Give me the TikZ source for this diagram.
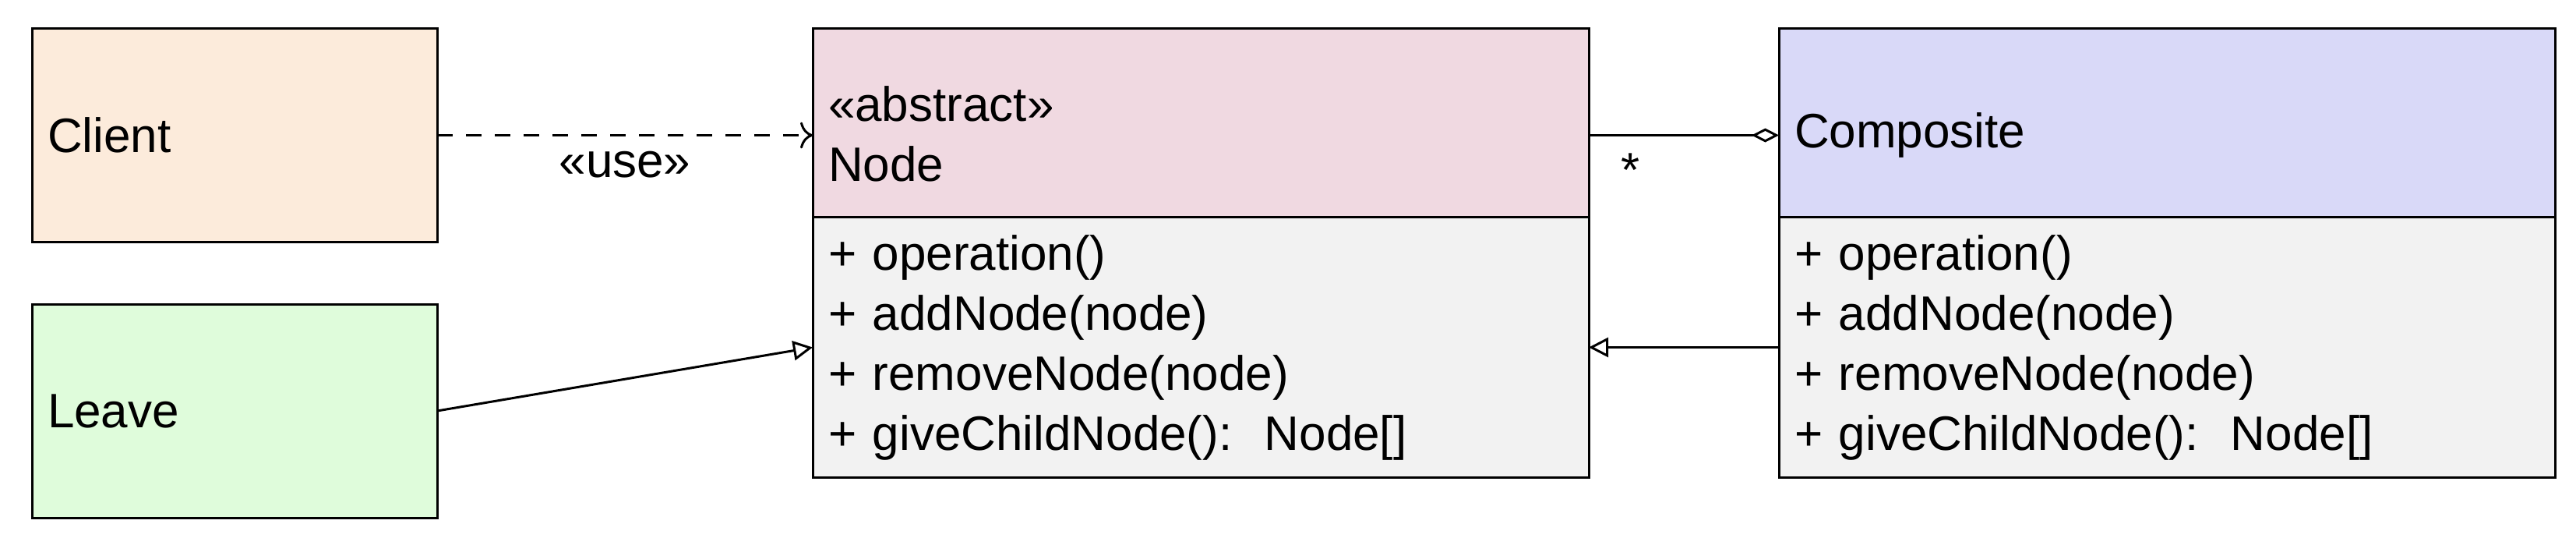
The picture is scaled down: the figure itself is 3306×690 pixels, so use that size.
\documentclass[tikz,border=0pt]{standalone}
\usepackage{fontspec}
\setmainfont{Liberation Sans}
\usetikzlibrary{arrows.meta,positioning}

\definecolor{clientfill}{RGB}{252,235,219}
\definecolor{leavefill}{RGB}{223,252,219}
\definecolor{abstractfill}{RGB}{240,217,225}
\definecolor{compositefill}{RGB}{217,217,248}
\definecolor{methodfill}{RGB}{242,242,242}
\newcommand{\headstrut}[1]{\rule{0pt}{#1}}

\begin{document}
\begin{tikzpicture}[x=1pt, y=-1pt, line width=3pt,
	font=\fontsize{62}{77}\selectfont,
	plain node/.style={draw, rectangle, anchor=north west, outer sep=0pt, inner xsep=20pt, inner ysep=0pt, text width=480pt, align=left},
	head node/.style={plain node, text width=956pt, minimum height=241.5pt},
	body node/.style={draw, rectangle, outer sep=0pt, inner xsep=20pt, inner ysep=0pt, text width=956pt, align=left, minimum height=334pt, fill=methodfill},
	use edge/.style={dash pattern=on 20pt off 17pt, -{Computer Modern Rightarrow[length=16pt,width=34pt]}},
	gen edge/.style={-{Triangle[open,length=25pt,width=25pt]}},
	aggr edge/.style={-{Diamond[open,length=35pt,width=18pt]}}]
	\useasboundingbox (0,0) rectangle (3306,690);
	
	\node[plain node, fill=clientfill, minimum height=273pt] (1) at (41,37) {Client};
	\node[plain node, fill=leavefill, minimum height=274pt] (2) at (41,390) {Leave};
	\node[head node, fill=abstractfill] (3) at (1043,37) {\headstrut{74pt}«abstract»\\Node};
	\node[body node] (4) [below=0pt of 3] {+ operation()\\+ addNode(node)\\+ removeNode(node)\\+ giveChildNode():\ \ Node[]};
	\node[head node, fill=compositefill] (5) at (2283,37) {\headstrut{75.5pt}Composite};
	\node[body node] (6) [below=0pt of 5] {+ operation()\\+ addNode(node)\\+ removeNode(node)\\+ giveChildNode():\ \ Node[]};
	
	\path
	(1.east) edge [use edge] node[anchor=base, yshift=-53.5pt] (7) {«use»} (1.east -| 3.west)
	(2.east) edge [gen edge] (4.west)
	(6.west) edge [gen edge] (4.east)
	(1.east -| 3.east) edge [aggr edge] node[pos=0, anchor=base west, xshift=37pt, yshift=-66pt] (8) {*} (1.east -| 5.west);
\end{tikzpicture}
\end{document}
